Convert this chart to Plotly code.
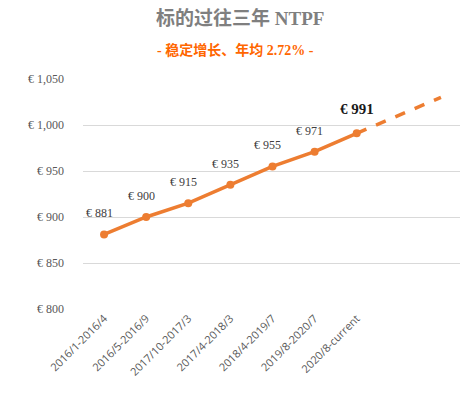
import plotly.graph_objects as go

categories = ["2016/1-2016/4", "2016/5-2016/9", "2017/10-2017/3", "2017/4-2018/3",
              "2018/4-2019/7", "2019/8-2020/7", "2020/8-current"]
values = [881, 900, 915, 935, 955, 971, 991]
forecast_values = [991, 1010, 1030]
y_ticks = [800, 850, 900, 950, 1000, 1050]
y_ticktext = ["€ 800", "€ 850", "€ 900", "€ 950", "€ 1,000", "€ 1,050"]

x_pos = list(range(len(categories)))
fc_x = [len(categories) - 1 + i for i in range(len(forecast_values))]

ORANGE = "#ED7D31"
serif = "Liberation Serif, Noto Sans CJK SC, serif"

fig = go.Figure()
fig.add_trace(go.Scatter(
    x=fc_x, y=forecast_values, mode="lines",
    line=dict(color=ORANGE, width=3.5, dash="dash"),
    hoverinfo="skip", showlegend=False))
fig.add_trace(go.Scatter(
    x=x_pos, y=values, mode="lines+markers",
    line=dict(color=ORANGE, width=3.5),
    marker=dict(color=ORANGE, size=8),
    showlegend=False))

annotations = []
for i, (xv, v) in enumerate(zip(x_pos, values)):
    last = i == len(values) - 1
    annotations.append(dict(
        x=xv, y=v, xref="x", yref="y",
        text=f"<b>€ {v}</b>" if last else f"€ {v}",
        showarrow=False, xanchor="center", yanchor="bottom",
        xshift=-5 if not last else 0, yshift=12 if not last else 14,
        font=dict(family=serif, size=15 if last else 12,
                  color="#1a1a1a" if last else "#404040")))

annotations += [
    dict(text="<b>标的过往三年 NTPF</b>", xref="paper", yref="paper",
         x=(240 - 83) / 379, y=(309 - 18) / 230, xanchor="center", yanchor="middle",
         showarrow=False, font=dict(family=serif, size=19, color="#7f7f7f")),
    dict(text="<b>- 稳定增长、年均 2.72% -</b>", xref="paper", yref="paper",
         x=(235 - 83) / 379, y=(309 - 50) / 230, xanchor="center", yanchor="middle",
         showarrow=False, font=dict(family=serif, size=14, color="#FF6600")),
]

# page body has an 8px default margin, so the figure is sized/offset to compensate
fig.update_layout(
    width=460, height=385,
    margin=dict(l=75, r=6, t=71, b=84),
    paper_bgcolor="white", plot_bgcolor="white",
    xaxis=dict(range=[-0.5, 8.5], tickvals=x_pos, ticktext=categories,
               tickangle=-45, showgrid=False, zeroline=False, showline=False,
               automargin=False,
               tickfont=dict(family="Open Sans, sans-serif", size=11, color="#595959")),
    yaxis=dict(range=[800, 1050], tickvals=y_ticks, ticktext=y_ticktext,
               showgrid=True, gridcolor="#d9d9d9", gridwidth=1, zeroline=False,
               showline=False, ticklabelstandoff=18, automargin=False,
               tickfont=dict(family=serif, size=12, color="#595959")),
    annotations=annotations,
)

fig.write_html("out.html")
